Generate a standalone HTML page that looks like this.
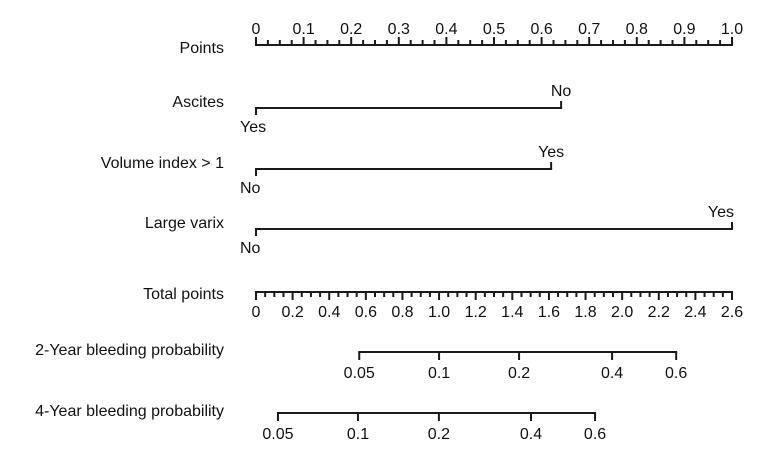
<!DOCTYPE html>
<html><head><meta charset="utf-8"><style>
body{margin:0;background:#fff}
svg{display:block}
text{font-family:"Liberation Sans",sans-serif;fill:#111}
</style></head><body>
<svg id="c" width="761" height="462"></svg>
<script>
const pointTicks=[0,0.1,0.2,0.3,0.4,0.5,0.6,0.7,0.8,0.9,1.0];
const pointTickLabels=["0","0.1","0.2","0.3","0.4","0.5","0.6","0.7","0.8","0.9","1.0"];
const totalTicks=[0,0.2,0.4,0.6,0.8,1.0,1.2,1.4,1.6,1.8,2.0,2.2,2.4,2.6];
const totalTickLabels=["0","0.2","0.4","0.6","0.8","1.0","1.2","1.4","1.6","1.8","2.0","2.2","2.4","2.6"];
const variableNames=["Ascites","Volume index > 1","Large varix"];
const variableLowLabels=["Yes","No","No"];
const variableHighLabels=["No","Yes","Yes"];
const variableHighPoints=[0.641,0.62,1.0];
const probLabels=["0.05","0.1","0.2","0.4","0.6"];
const prob2Points=[0.564,1.0,1.437,1.945,2.295];
const prob4Points=[0.120,0.557,0.999,1.502,1.852];

const X0=256,X1=732;
const xPts=v=>X0+(X1-X0)*v/1.0;
const xTot=v=>X0+(X1-X0)*v/2.6;
const svg=document.getElementById('c');
const NS='http://www.w3.org/2000/svg';
function el(tag,attrs,parent){const e=document.createElementNS(NS,tag);for(const k in attrs)e.setAttribute(k,attrs[k]);(parent||svg).appendChild(e);return e;}
function line(x1,y1,x2,y2,p){return el('line',{x1,y1,x2,y2,stroke:'#1a1a1a','stroke-width':2},p);}
function txt(s,x,y,anchor,p){const t=el('text',{x,y,'font-size':16,'text-anchor':anchor||'middle'},p);t.textContent=s;return t;}

// Points axis
let g=el('g',{});


let yl=txt('Points',224,53,'end',g);

line(xPts(0)-1,45,xPts(1)+1,45,g);
for(let i=0;i<=40;i++){const v=i*0.025;const major=i%4===0;line(xPts(v),45,xPts(v),major?37:40,g);}
pointTicks.forEach((v,i)=>{const t=txt(pointTickLabels[i],xPts(v),34,'middle',g);});

// Variables
const vy=[108,169,229];
variableNames.forEach((n,i)=>{
  const gg=el('g',{});
  
  
  const y=vy[i];
  const lab=txt(n,224,y-1,'end',gg);
  
  const xe=xPts(variableHighPoints[i]);
  line(X0-1,y,xe+1,y,gg);
  line(X0,y,X0,y+7,gg);
  line(xe,y,xe,y-7,gg);
  const lo=txt(variableLowLabels[i],X0-16,y+24,'start',gg);
  
  const hi=txt(variableHighLabels[i],xe,y-12,'middle',gg);
  if(variableHighPoints[i]>=0.99){hi.setAttribute('text-anchor','end');hi.setAttribute('x',xe+2);}
  
});

// Total points axis
g=el('g',{});


yl=txt('Total points',224,299,'end',g);

line(xTot(0)-1,292,xTot(2.6)+1,292,g);
for(let i=0;i<=52;i++){const v=i*0.05;const major=i%4===0;line(xTot(v),292,xTot(v),major?300:297,g);}
totalTicks.forEach((v,i)=>{const t=txt(totalTickLabels[i],xTot(v),317,'middle',g);});

// Probability axes
function probAxis(name,title,pts,y){
  const gg=el('g',{});
  
  
  const l=txt(title,224,y+3,'end',gg);
  
  line(xTot(pts[0])-1,y,xTot(pts[pts.length-1])+1,y,gg);
  pts.forEach((p,i)=>{line(xTot(p),y,xTot(p),y+8,gg);const t=txt(probLabels[i],xTot(p),y+26,'middle',gg);});
}
probAxis('two-year-probability-axis','2-Year bleeding probability',prob2Points,352);
probAxis('four-year-probability-axis','4-Year bleeding probability',prob4Points,413);
</script>
</body></html>
